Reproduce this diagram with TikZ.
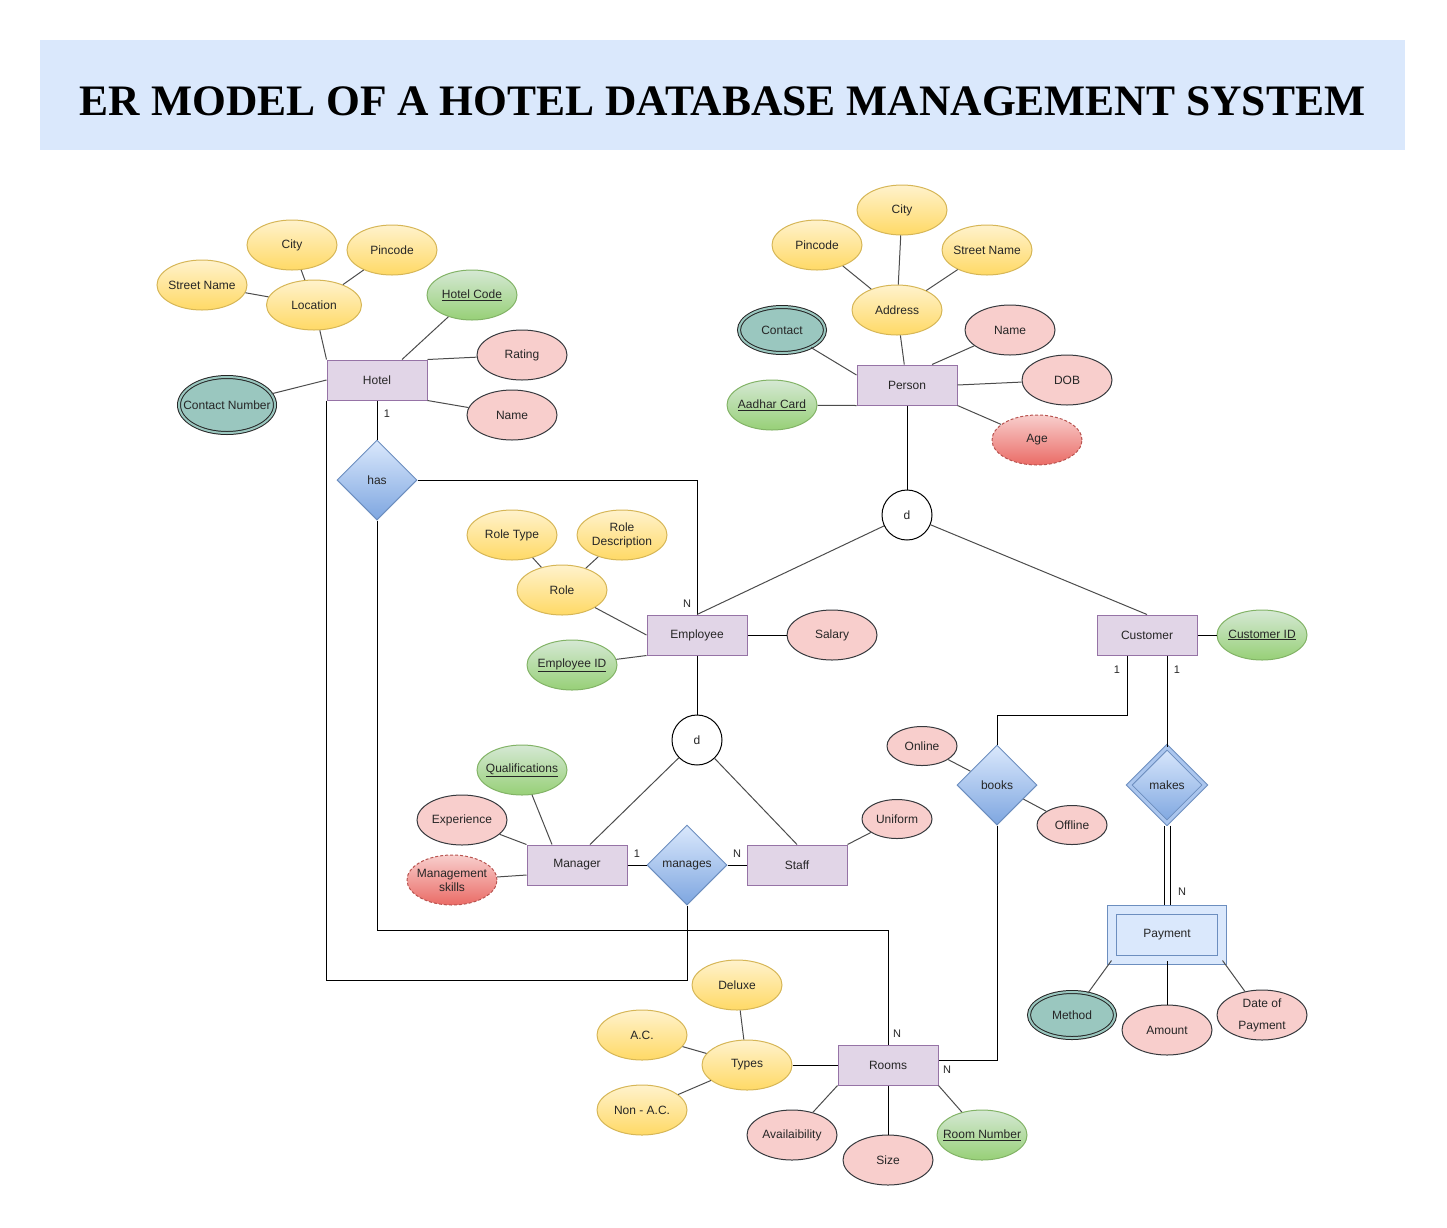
\documentclass[tikz,border=0pt]{standalone}
\usepackage{fontspec}
\setmainfont{Liberation Sans}
\newfontfamily\titlefont{Liberation Serif}
\usetikzlibrary{shapes.geometric,calc}

\definecolor{titlefill}{HTML}{DAE8FC}
\definecolor{entfill}{HTML}{E1D5E7}
\definecolor{entline}{HTML}{9673A6}
\definecolor{ytop}{HTML}{FFF2CC}
\definecolor{ybot}{HTML}{FFD966}
\definecolor{yline}{HTML}{D6B656}
\definecolor{gtop}{HTML}{D5E8D4}
\definecolor{gbot}{HTML}{97D077}
\definecolor{gline}{HTML}{82B366}
\definecolor{pfill}{HTML}{F8CECC}
\definecolor{pline}{HTML}{36393D}
\definecolor{dbot}{HTML}{EA6B66}
\definecolor{dline}{HTML}{B85450}
\definecolor{mfill}{HTML}{9AC7BF}
\definecolor{rtop}{HTML}{DAE8FC}
\definecolor{rbot}{HTML}{7EA6E0}
\definecolor{rline}{HTML}{6C8EBF}
\definecolor{wgap}{HTML}{ABC6EE}

\begin{document}
\begin{tikzpicture}[x=1pt,y=-1pt,line width=1pt,
    font=\fontsize{12}{14}\selectfont,text=black!85,
    entity/.style={draw=entline,fill=entfill,minimum width=100pt,minimum height=40pt,inner sep=0pt},
    wentity/.style={draw=rline,fill=titlefill,double=titlefill,double distance=8pt,minimum width=110pt,minimum height=50pt,inner sep=0pt},
    attr/.style={ellipse,minimum width=90pt,minimum height=50pt,inner xsep=-12pt,inner ysep=0pt,align=center},
    yattr/.style={attr,draw=yline,top color=ytop,bottom color=ybot},
    gattr/.style={attr,draw=gline,top color=gtop,bottom color=gbot},
    pattr/.style={attr,draw=pline,fill=pfill},
    sattr/.style={pattr,minimum width=70pt,minimum height=39pt},
    dattr/.style={attr,draw=dline,dash pattern=on 3pt off 2pt,top color=pfill,bottom color=dbot},
    mattr/.style={attr,draw=black!85,fill=mfill,double=mfill,double distance=2pt,minimum width=86pt,minimum height=46pt},
    rel/.style={diamond,draw=rline,top color=rtop,bottom color=rbot,minimum width=80pt,minimum height=80pt,inner sep=0pt},
    wrel/.style={rel,double=wgap,double distance=3pt,minimum width=76pt,minimum height=76pt},
    disc/.style={circle,draw=black,fill=white,minimum size=50pt,inner sep=0pt},
    card/.style={font=\fontsize{11}{13}\selectfont,inner sep=0pt},
    aline/.style={draw=black!70},
    rline/.style={draw=black}]

    \useasboundingbox (0,0) rectangle (1447,1227);

    \node[fill=titlefill,minimum width=1365pt,minimum height=110pt,inner sep=0pt,text height=42pt,text=black,
        font=\titlefont\bfseries\fontsize{43.5}{50}\selectfont] (title) at (722.5,95) {ER MODEL OF A HOTEL DATABASE MANAGEMENT SYSTEM};

    \node[entity] (hotel) at (377,380) {Hotel};
    \node[yattr] (hcity) at (292,245) {City};
    \node[yattr] (hpin) at (392,250) {Pincode};
    \node[yattr] (hstreet) at (202,285) {Street Name};
    \node[yattr,minimum width=95pt] (location) at (314,305) {Location};
    \node[gattr] (hcode) at (472,295) {\underline{Hotel Code}};
    \node[pattr] (rating) at (522,355) {Rating};
    \node[pattr] (hname) at (512,415) {Name};
    \node[mattr,minimum width=96pt,minimum height=56pt] (hcontact) at (227,405) {Contact Number};
    \node[rel] (has) at (377,480) {has};

    \node[entity] (person) at (907,385) {Person};
    \node[yattr] (pcity) at (902,210) {City};
    \node[yattr] (ppin) at (817,245) {Pincode};
    \node[yattr] (pstreet) at (987,250) {Street Name};
    \node[yattr] (address) at (897,310) {Address};
    \node[mattr] (pcontact) at (782,330) {Contact};
    \node[pattr] (pname) at (1010,330) {Name};
    \node[pattr] (dob) at (1067,380) {DOB};
    \node[gattr] (aadhar) at (772,405) {\underline{Aadhar Card}};
    \node[dattr] (age) at (1037,440) {Age};
    \node[disc] (dperson) at (907,515) {d};

    \node[entity] (employee) at (697,635) {Employee};
    \node[yattr] (roletype) at (512,535) {Role Type};
    \node[yattr] (roledesc) at (622,535) {Role\\Description};
    \node[yattr] (role) at (562,590) {Role};
    \node[gattr] (empid) at (572,665) {\underline{Employee ID}};
    \node[pattr] (salary) at (832,635) {Salary};
    \node[disc] (demployee) at (697,740) {d};

    \node[entity] (manager) at (577,865) {Manager};
    \node[entity] (staff) at (797,865) {Staff};
    \node[rel] (manages) at (687,865) {manages};
    \node[gattr] (qual) at (522,770) {\underline{Qualifications}};
    \node[pattr] (exp) at (462,820) {Experience};
    \node[dattr] (mskills) at (452,880) {Management\\skills};
    \node[sattr] (uniform) at (897,819) {Uniform};

    \node[entity] (customer) at (1147,635) {Customer};
    \node[gattr] (custid) at (1262,635) {\underline{Customer ID}};
    \node[rel] (books) at (997,785) {books};
    \node[wrel] (makes) at (1167,785) {makes};
    \node[sattr] (online) at (922,746) {Online};
    \node[sattr] (offline) at (1072,825) {Offline};
    \node[wentity] (payment) at (1167,935) {Payment};
    \node[mattr] (method) at (1072,1015) {Method};
    \node[pattr] (amount) at (1167,1030) {Amount};
    \node[pattr] (paydate) at (1262,1015) {Date of\\[8pt]Payment};

    \node[entity] (rooms) at (888,1065) {Rooms};
    \node[yattr] (types) at (747,1065) {Types};
    \node[yattr] (deluxe) at (737,985) {Deluxe};
    \node[yattr] (ac) at (642,1035) {A.C.};
    \node[yattr] (nonac) at (642,1110) {Non - A.C.};
    \node[pattr] (avail) at (792,1135) {Availaibility};
    \node[pattr] (size) at (888,1160) {Size};
    \node[gattr] (roomno) at (982,1135) {\underline{Room Number}};

    \node[card] (c1) at (387,414) {1};
    \node[card] (c2) at (687,604) {N};
    \node[card] (c3) at (897,1034) {N};
    \node[card] (c4) at (637,854) {1};
    \node[card] (c5) at (737,854) {N};
    \node[card] (c6) at (1117,670) {1};
    \node[card] (c7) at (1177,670) {1};
    \node[card] (c8) at (1182,892) {N};
    \node[card] (c9) at (947,1070) {N};

    \draw[aline] (hstreet) -- (location);
    \draw[aline] (hcity) -- (location);
    \draw[aline] (hpin) -- (location);
    \draw[aline] (location) -- (hotel.north west);
    \draw[aline] (hcode) -- ([xshift=25pt]hotel.north);
    \draw[aline] (rating) -- (hotel.north east);
    \draw[aline] (hname) -- (hotel.south east);
    \draw[aline] (hcontact) -- (hotel.west);

    \draw[aline] (pcity) -- (address);
    \draw[aline] (ppin) -- (address);
    \draw[aline] (pstreet) -- (address);
    \draw[aline] (address) -- (person);
    \draw[aline] (pcontact) -- ([yshift=10pt]person.west);
    \draw[aline] (pname) -- ([xshift=25pt]person.north);
    \draw[aline] (dob) -- (person.east);
    \draw[aline] (age) -- (person.south east);
    \draw[aline] (aadhar) -- (person.south west);

    \draw[aline] (roletype) -- (role);
    \draw[aline] (roledesc) -- (role);
    \draw[aline] (role) -- (employee.west);
    \draw[aline] (empid) -- (employee.south west);
    \draw[rline] (salary) -- (employee);

    \draw[aline] (qual) -- ([xshift=-25pt]manager.north);
    \draw[aline] (exp) -- (manager.north west);
    \draw[aline] (mskills) -- ([yshift=-10pt]manager.west);
    \draw[aline] (uniform) -- (staff.north east);

    \draw[rline] (custid) -- (customer);
    \draw[aline] (online) -- (books);
    \draw[aline] (offline) -- (books);
    \draw[aline] (method) -- (payment.south west);
    \draw[rline] (amount) -- (payment.south);
    \draw[aline] (paydate) -- (payment.south east);

    \draw[rline] (types) -- (rooms);
    \draw[aline] (deluxe) -- (types);
    \draw[aline] (ac) -- (types);
    \draw[aline] (nonac) -- (types);
    \draw[aline] (avail) -- (rooms.south west);
    \draw[rline] (size) -- (rooms.south);
    \draw[aline] (roomno) -- (rooms.south east);

    \draw[rline] (hotel) -- (has);
    \draw[rline] (has.east) -| (employee.north);
    \draw[rline] (has.south) -- ++(0,410) -| (rooms.north);
    \draw[rline] (hotel.south west) -- ++(0,580) -| (manages.south);
    \draw[rline] (manager) -- (manages);
    \draw[rline] (manages) -- (staff);

    \draw[rline] (person) -- (dperson);
    \draw[aline] (dperson) -- (employee.north);
    \draw[aline] (dperson) -- (customer.north);
    \draw[rline] (employee) -- (demployee);
    \draw[aline] (demployee) -- ([xshift=13pt]manager.north);
    \draw[aline] (demployee) -- (staff.north);

    \draw[rline] ([xshift=-20pt]customer.south) -- ++(0,60) -| (books.north);
    \draw[rline] ([xshift=20pt]customer.south) -- (makes.north);
    \draw[rline,double,double distance=5pt] ([yshift=-2pt]makes.south) -- ([yshift=5pt]payment.north);
    \draw[rline] (books.south) |- ([yshift=5pt]rooms.east);
\end{tikzpicture}
\end{document}
